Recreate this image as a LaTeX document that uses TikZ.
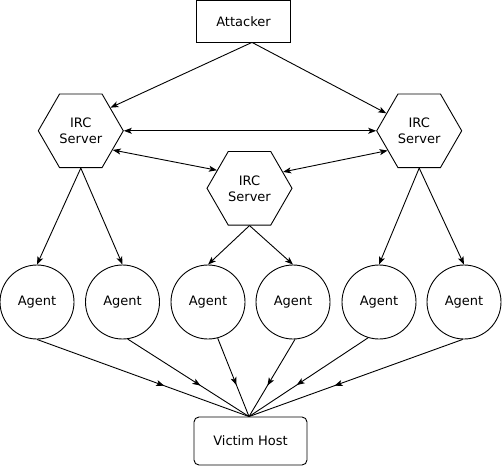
\documentclass[tikz,border=0pt]{standalone}
\usepackage{fontspec}
\setmainfont{DejaVu Sans}
\usetikzlibrary{shapes.geometric,arrows.meta,decorations.markings}
\begin{document}
\begin{tikzpicture}[x=1pt,y=-1pt, line width=0.9pt,
  >={Stealth[length=8pt,width=6pt,inset=2pt]},
  every node/.style={font=\fontsize{13}{16}\selectfont, line width=0.9pt},
  box/.style={draw, rectangle, inner sep=0pt},
  hex/.style={draw, regular polygon, regular polygon sides=6, minimum size=85pt, inner sep=0pt, align=center},
  agent/.style={draw, circle, minimum size=74pt, inner sep=0pt},
  midarrow/.style={postaction={decorate}, decoration={markings, mark=at position 0.6 with {\arrow{>}}}}]
\useasboundingbox (0,0) rectangle (502,466);
\node[box, minimum width=93.6pt, minimum height=41.3pt] (att) at (243.5,21.3) {Attacker};
\node[hex] (irc1) at (80.8,130.8) {IRC\\Server};
\node[hex] (irc2) at (419.2,130.8) {IRC\\Server};
\node[hex] (irc3) at (249.5,188.3) {IRC\\Server};
\node[agent] (ag1) at (37,302) {Agent};
\node[agent] (ag2) at (122.5,302) {Agent};
\node[agent] (ag3) at (208,302) {Agent};
\node[agent] (ag4) at (293,302) {Agent};
\node[agent] (ag5) at (379,302) {Agent};
\node[agent] (ag6) at (464,302) {Agent};
\node[box, rounded corners=5pt, minimum width=113pt, minimum height=48pt] (vic) at (250.5,441) {Victim Host};
\coordinate (attout) at ([xshift=8.5pt]att.south);
\coordinate (vicin) at ([xshift=-1.5pt]vic.north);
\draw[->] (attout) -- (irc1.38);
\draw[->] (attout) -- (irc2.152);
\draw[<->] (irc1.east) -- (irc2.west);
\draw[<->] (irc1.-31) -- (irc3.151);
\draw[<->] (irc2.212) -- (irc3.26);
\draw[->] (irc1.south) -- (ag1.north);
\draw[->] (irc1.south) -- (ag2.north);
\draw[->] (irc3.south) -- (ag3.north);
\draw[->] (irc3.south) -- (ag4.north);
\draw[->] (irc2.south) -- (ag5.north);
\draw[->] (irc2.south) -- (ag6.north);
\draw[midarrow] (ag1.-90) -- (vicin);
\draw[midarrow] (ag2.-82) -- (vicin);
\draw[midarrow] (ag3.-75) -- (vicin);
\draw[midarrow] (ag4.-87) -- (vicin);
\draw[midarrow] (ag5.-107) -- (vicin);
\draw[midarrow] (ag6.-92) -- (vicin);
\end{tikzpicture}
\end{document}
